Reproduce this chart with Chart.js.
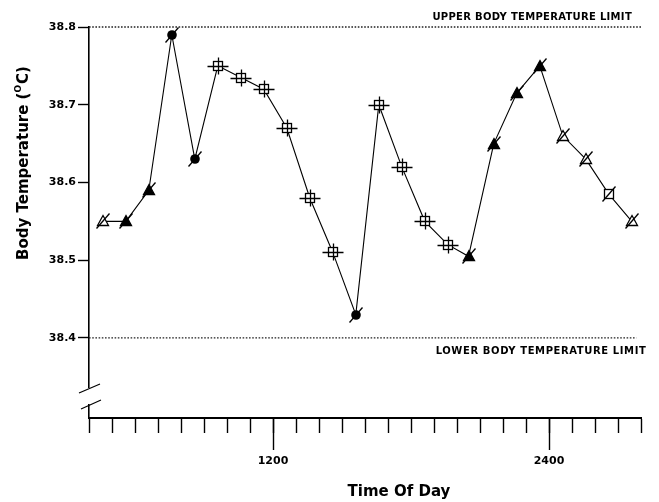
<!DOCTYPE html>
<html>
<head>
<meta charset="utf-8">
<script src="https://cdn.jsdelivr.net/npm/chart.js@4/dist/chart.umd.min.js"></script>
<style>
  html, body { margin: 0; padding: 0; background: #fff; }
  #wrap { width: 659px; height: 502px; }
</style>
</head>
<body>
<div id="wrap"><canvas id="c" width="659" height="502"></canvas></div>
<script>
// Hourly body temperature readings; clock hours past 24 run into the next morning.
const timeOfDay = [4.6, 5.6, 6.6, 7.6, 8.6, 9.6, 10.6, 11.6, 12.6, 13.6, 14.6, 15.6,
                   16.6, 17.6, 18.6, 19.6, 20.5, 21.6, 22.6, 23.6, 24.6, 25.6, 26.6, 27.6];
const bodyTemp  = [38.55, 38.55, 38.59, 38.79, 38.63, 38.75, 38.735, 38.72, 38.67, 38.58, 38.51, 38.43,
                   38.70, 38.62, 38.55, 38.52, 38.505, 38.65, 38.715, 38.75, 38.66, 38.63, 38.585, 38.55];
const markerKind = ['openTri', 'fillTri', 'fillTri', 'dot', 'dot',
                    'sqCross', 'sqCross', 'sqCross', 'sqCross', 'sqCross', 'sqCross',
                    'dot', 'sqCross', 'sqCross', 'sqCross', 'sqCross',
                    'fillTri', 'fillTri', 'fillTri', 'fillTri',
                    'openTri', 'openTri', 'openSq', 'openTri'];

// Axis ticks
const hourTicks = [4, 5, 6, 7, 8, 9, 10, 11, 12, 13, 14, 15, 16, 17, 18, 19, 20, 21, 22, 23, 24, 25, 26, 27, 28];
const hourLabels = { 12: '1200', 24: '2400' };
const tempTicks = [38.4, 38.5, 38.6, 38.7, 38.8];

// Temperature limits and the span of hours their reference lines cover
const upperLimit = 38.8;
const lowerLimit = 38.4;
const upperLimitSpan = [4, 28];
const lowerLimitSpan = [4, 27.8];
const upperLabel = 'UPPER BODY TEMPERATURE LIMIT';
const lowerLabel = 'LOWER BODY TEMPERATURE LIMIT';

// Marker glyphs drawn once into small canvases
function makeMarker(kind) {
  const c = document.createElement('canvas');
  c.width = 26; c.height = 26;
  const g = c.getContext('2d');
  g.translate(13, 13);
  g.strokeStyle = '#000';
  g.fillStyle = '#000';
  g.lineWidth = 1.3;
  const slash = () => { g.beginPath(); g.moveTo(-6.5, 7.5); g.lineTo(6.5, -7.5); g.stroke(); };
  const tri = () => { g.beginPath(); g.moveTo(0, -5.5); g.lineTo(5.5, 4.5); g.lineTo(-5.5, 4.5); g.closePath(); };
  if (kind === 'dot') {
    g.beginPath(); g.arc(0, 0, 4.8, 0, Math.PI * 2); g.fill(); slash();
  } else if (kind === 'fillTri') {
    tri(); g.fill(); g.stroke(); slash();
  } else if (kind === 'openTri') {
    tri(); g.fillStyle = '#fff'; g.fill(); g.stroke(); slash();
  } else if (kind === 'openSq') {
    g.fillStyle = '#fff'; g.fillRect(-4.5, -4.5, 9, 9); g.strokeRect(-4.5, -4.5, 9, 9); slash();
  } else if (kind === 'sqCross') {
    g.fillStyle = '#fff'; g.fillRect(-4.5, -4.5, 9, 9); g.strokeRect(-4.5, -4.5, 9, 9);
    g.beginPath();
    g.moveTo(-10.5, 0.5); g.lineTo(10.5, 0.5);
    g.moveTo(0.5, -8.5); g.lineTo(0.5, 8.5);
    g.stroke();
  }
  return c;
}
const markerImg = {};
['dot', 'fillTri', 'openTri', 'openSq', 'sqCross'].forEach(k => { markerImg[k] = makeMarker(k); });

const FONT = 'DejaVu Sans';

// Markers placed on whole pixels at the positions the line dataset computed
const markers = {
  id: 'markers',
  afterDatasetsDraw(chart) {
    const meta = chart.getDatasetMeta(0);
    const ctx = chart.ctx;
    meta.data.forEach((el, i) => {
      const img = markerImg[markerKind[i]];
      ctx.drawImage(img, Math.round(el.x) - 13, Math.round(el.y) - 13);
    });
  }
};

// Extra drawing: long major ticks, axis break, limit captions and axis titles
const decorations = {
  id: 'decorations',
  afterDraw(chart) {
    const { ctx, scales: { x, y } } = chart;
    const axisY = y.getPixelForValue(y.min);
    ctx.save();
    ctx.strokeStyle = '#000';
    ctx.fillStyle = '#000';

    // longer ticks at the labelled hours
    ctx.lineWidth = 1.4;
    Object.keys(hourLabels).forEach(h => {
      const px = Math.round(x.getPixelForValue(+h)) + 0.5;
      ctx.beginPath(); ctx.moveTo(px, axisY); ctx.lineTo(px, axisY + 32); ctx.stroke();
    });

    // broken vertical axis
    const ax = x.getPixelForValue(x.min);
    ctx.fillStyle = '#fff';
    ctx.fillRect(ax - 3, axisY - 30, 6, 16);
    ctx.fillStyle = '#000';
    ctx.lineWidth = 1.2;
    ctx.beginPath();
    ctx.moveTo(ax - 10, axisY - 25); ctx.lineTo(ax + 11, axisY - 34);
    ctx.moveTo(ax - 8, axisY - 9); ctx.lineTo(ax + 12, axisY - 18);
    ctx.stroke();

    // limit captions
    ctx.font = 'bold 10px ' + FONT;
    ctx.textAlign = 'right';
    ctx.textBaseline = 'alphabetic';
    ctx.letterSpacing = '0.3px';
    ctx.fillText(upperLabel, x.getPixelForValue(upperLimitSpan[1]) - 9, y.getPixelForValue(upperLimit) - 7);
    ctx.letterSpacing = '0.6px';
    ctx.fillText(lowerLabel, x.getPixelForValue(lowerLimitSpan[1]) + 10, y.getPixelForValue(lowerLimit) + 16);
    ctx.letterSpacing = '0px';

    // x axis title
    ctx.font = 'bold 15px ' + FONT;
    ctx.textAlign = 'center';
    ctx.fillText('Time Of Day', 399, 496);

    // y axis title with superscript O
    const big = 'bold 15px ' + FONT, small = 'bold 9px ' + FONT;
    const a = 'Body Temperature (', o = 'O', cpar = 'C)';
    ctx.font = big; const wa = ctx.measureText(a).width, wc = ctx.measureText(cpar).width;
    ctx.font = small; const wo = ctx.measureText(o).width;
    const total = wa + wo + 1 + wc;
    ctx.translate(24, 163 + total / 2);
    ctx.rotate(-Math.PI / 2);
    ctx.textAlign = 'left';
    ctx.textBaseline = 'middle';
    ctx.font = big; ctx.fillText(a, 0, 0);
    ctx.font = small; ctx.fillText(o, wa, -5);
    ctx.font = big; ctx.fillText(cpar, wa + wo + 1, 0);
    ctx.restore();
  }
};

const pts = timeOfDay.map((t, i) => ({ x: t, y: bodyTemp[i] }));

new Chart(document.getElementById('c'), {
  type: 'line',
  data: {
    datasets: [
      {
        data: pts,
        borderColor: '#000',
        borderWidth: 1.1,
        tension: 0,
        clip: false,
        pointRadius: 0
      },
      {
        data: [{ x: upperLimitSpan[0], y: upperLimit }, { x: upperLimitSpan[1], y: upperLimit }],
        borderColor: '#222',
        borderWidth: 1.3,
        borderDash: [1.6, 1.6],
        pointRadius: 0,
        clip: false
      },
      {
        data: [{ x: lowerLimitSpan[0], y: lowerLimit }, { x: lowerLimitSpan[1], y: lowerLimit }],
        borderColor: '#222',
        borderWidth: 1.3,
        borderDash: [1.6, 1.6],
        pointRadius: 0,
        clip: false
      }
    ]
  },
  options: {
    responsive: false,
    animation: false,
    layout: { padding: { left: 0, right: 18, top: 27, bottom: 0 } },
    plugins: { legend: { display: false }, tooltip: { enabled: false } },
    scales: {
      x: {
        type: 'linear',
        min: 4, max: 28,
        afterBuildTicks: s => { s.ticks = hourTicks.map(v => ({ value: v })); },
        afterFit: s => { s.height = 84; s.paddingLeft = 0; s.paddingRight = 0; },
        ticks: {
          autoSkip: false, maxRotation: 0, padding: 22,
          color: '#000',
          font: { family: FONT, weight: 'bold', size: 11 },
          callback: v => hourLabels[v] || ''
        },
        grid: { drawOnChartArea: false, drawTicks: true, tickLength: 15, tickColor: '#000', tickWidth: 1.4 },
        border: { display: true, color: '#000', width: 2 }
      },
      y: {
        min: 38.297, max: 38.8,
        afterBuildTicks: s => { s.ticks = tempTicks.map(v => ({ value: v })); },
        afterFit: s => { s.width = 89; },
        ticks: {
          padding: 2,
          color: '#000',
          font: { family: FONT, weight: 'bold', size: 11 },
          callback: v => v.toFixed(1)
        },
        grid: { drawOnChartArea: false, drawTicks: true, tickLength: 11, tickColor: '#000', tickWidth: 1.4 },
        border: { display: true, color: '#000', width: 1.6 }
      }
    }
  },
  plugins: [markers, decorations]
});
</script>
</body>
</html>
